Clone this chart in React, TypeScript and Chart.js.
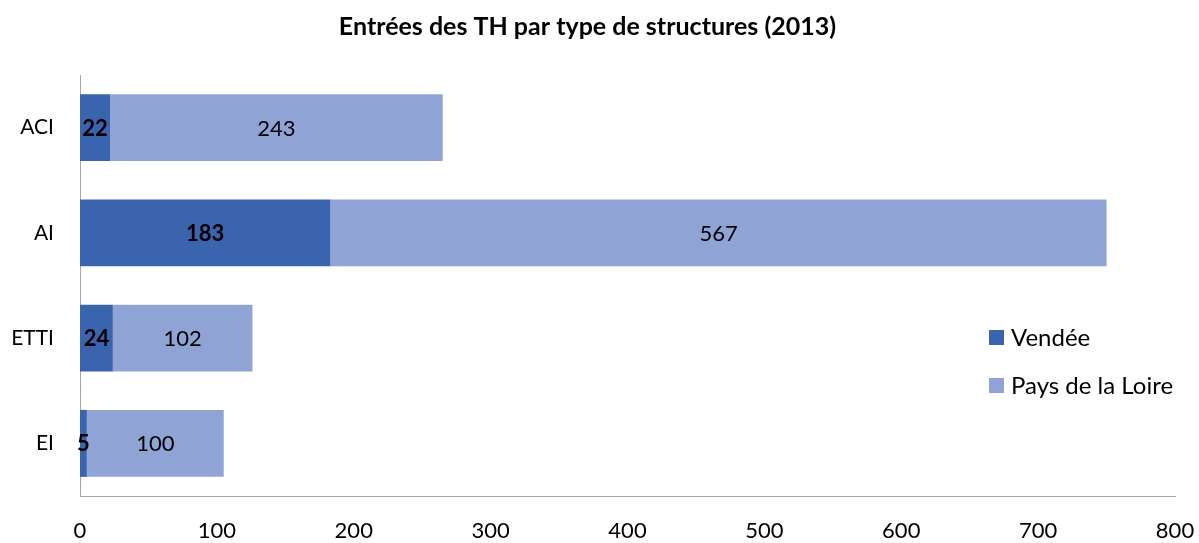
import React, { useEffect, useRef } from "react";
import { Chart, registerables } from "chart.js";

Chart.register(...registerables);

const categories = ["ACI", "AI", "ETTI", "EI"];
const vendee = [22, 183, 24, 5];
const paysDeLaLoire = [243, 567, 102, 100];
const xTicks = [0, 100, 200, 300, 400, 500, 600, 700, 800];

const FONT = "Lato, 'Open Sans', sans-serif";
const DARK = "#3A64AE";
const LIGHT = "#8FA4D4";

const labelsPlugin = {
  id: "barLabels",
  afterDatasetsDraw(chart: any) {
    const ctx = chart.ctx;
    ctx.save();
    ctx.fillStyle = "#000";
    ctx.textAlign = "center";
    ctx.textBaseline = "middle";
    chart.data.datasets.forEach((ds: any, i: number) => {
      const meta = chart.getDatasetMeta(i);
      ctx.font = (i === 0 ? "bold " : "") + "22px " + FONT;
      meta.data.forEach((bar: any, j: number) => {
        const cx = (bar.x + bar.base) / 2;
        ctx.fillText(String(ds.data[j]), cx, bar.y + 1);
      });
    });
    ctx.restore();
  },
};

const legendPlugin = {
  id: "customLegend",
  afterDraw(chart: any) {
    const ctx = chart.ctx;
    ctx.save();
    ctx.textAlign = "left";
    ctx.textBaseline = "middle";
    ctx.font = "24px " + FONT;
    const x = 989;
    const ys = [337, 385];
    chart.data.datasets.forEach((ds: any, i: number) => {
      ctx.fillStyle = ds.backgroundColor;
      ctx.fillRect(x, ys[i] - 7, 15, 15);
      ctx.fillStyle = "#000";
      ctx.fillText(ds.label, x + 22, ys[i] + 1);
    });
    ctx.restore();
  },
};

export default function App() {
  const ref = useRef<HTMLCanvasElement>(null);
  useEffect(() => {
    if (!ref.current) return;
    const chart = new Chart(ref.current, {
      type: "bar",
      data: {
        labels: categories,
        datasets: [
          {
            label: "Vendée",
            data: vendee,
            backgroundColor: DARK,
            borderWidth: 0,
            categoryPercentage: 1,
            barPercentage: 0.636,
          },
          {
            label: "Pays de la Loire",
            data: paysDeLaLoire,
            backgroundColor: LIGHT,
            borderWidth: 0,
            categoryPercentage: 1,
            barPercentage: 0.636,
          },
        ],
      },
      options: {
        indexAxis: "y",
        animation: false,
        responsive: false,
        maintainAspectRatio: false,
        layout: { padding: { left: 0, right: 24, top: 0, bottom: 0 } },
        plugins: {
          legend: { display: false },
          tooltip: { enabled: false },
          title: {
            display: true,
            text: "Entrées des TH par type de structures (2013)",
            color: "#000",
            font: { family: FONT, size: 25, weight: "bold" },
            padding: { top: 12, bottom: 33 },
          },
        },
        scales: {
          x: {
            stacked: true,
            min: 0,
            max: 800,
            afterBuildTicks: (scale: any) => {
              scale.ticks = xTicks.map((v) => ({ value: v }));
            },
            afterFit: (scale: any) => {
              scale.height = 47;
              scale.paddingLeft = 0;
              scale.paddingRight = 0;
            },
            grid: { display: false },
            border: { display: true, color: "#A6A6A6", width: 1 },
            ticks: {
              color: "#000",
              padding: 14,
              font: { family: FONT, size: 22 },
              maxRotation: 0,
            },
          },
          y: {
            stacked: true,
            afterFit: (scale: any) => {
              scale.width = 80;
              scale.paddingTop = 0;
              scale.paddingBottom = 0;
            },
            grid: { display: false },
            border: { display: true, color: "#A6A6A6", width: 1 },
            ticks: {
              color: "#000",
              padding: 18,
              font: { family: FONT, size: 21 },
            },
          },
        },
      },
      plugins: [labelsPlugin, legendPlugin],
    });
    return () => chart.destroy();
  }, []);
  return (
    <div style={{ position: "fixed", left: 0, top: 0, width: 1199, height: 543, background: "#fff" }}>
      <canvas ref={ref} width={1199} height={543} style={{ width: 1199, height: 543 }} />
    </div>
  );
}
